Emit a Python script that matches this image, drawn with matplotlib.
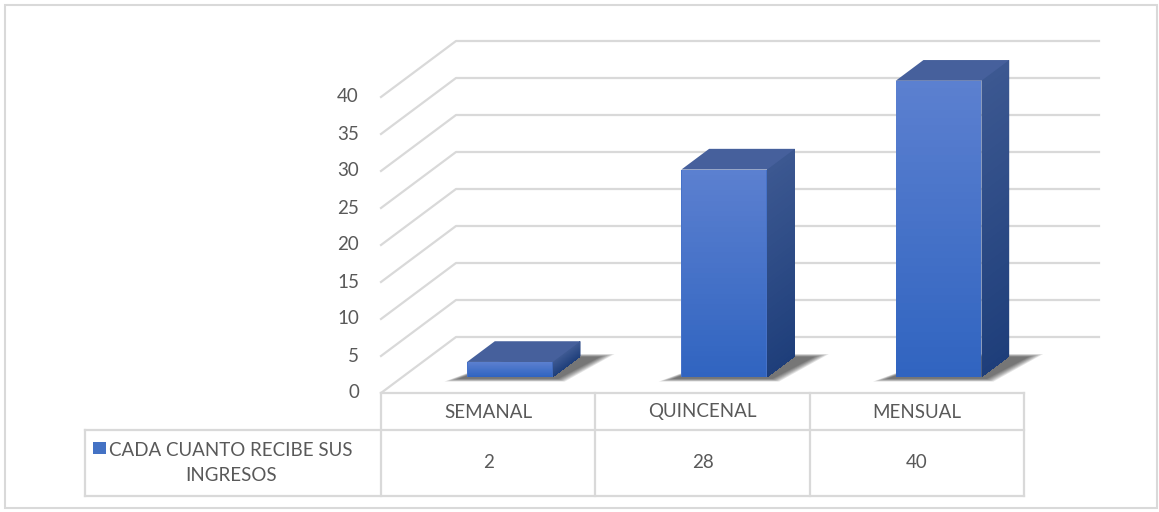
import numpy as np
import matplotlib
matplotlib.use("Agg")
import matplotlib.pyplot as plt
import matplotlib.transforms as mtransforms
from matplotlib.patches import Polygon, Rectangle

# data
categories = ["SEMANAL", "QUINCENAL", "MENSUAL"]
values = [2, 28, 40]
series_name = "CADA CUANTO RECIBE SUS\nINGRESOS"
yticks = list(range(0, 45, 5))

W, H = 1159, 512
plt.rcParams["font.family"] = ["Lato", "DejaVu Sans"]
txt_color = "#595959"
grid_color = "#d9d9d9"

fig = plt.figure(figsize=(W / 100, H / 100), dpi=100)
ax = fig.add_axes([381 / W, 119 / H, (1024 - 381) / W, (415 - 119) / H])
ax.set_xlim(-0.5, 2.5)
ax.set_ylim(0, 40)
ax.axis("off")

# pixel coords (top-left origin) for layout bits
pix = mtransforms.Affine2D().scale(1 / W, -1 / H).translate(0, 1) + fig.transFigure
xdata_ypix = mtransforms.blended_transform_factory(ax.transData, pix)

DX, DY = 75, 56  # oblique offset of full depth, in pixels


def proj(x, v, d):
    px, py = ax.transData.transform((x, v))
    return (px + DX * d, py + DY * d)


ident = mtransforms.IdentityTransform()

# back wall + side gridlines
for v in yticks:
    pts = [proj(-0.5, v, 0), proj(-0.5, v, 1), proj(2.5, v, 1)]
    xs, ys = zip(*pts)
    fig.add_artist(plt.Line2D(xs, ys, transform=ident, color=grid_color, lw=1.6, zorder=1))
    ax.text(-0.5, v, str(v), transform=mtransforms.offset_copy(ax.transData, fig, x=-22, y=0, units="dots"),
            ha="right", va="center", fontsize=13.5, color=txt_color)

# bars
D0, D1 = 0.29, 0.66
half = 0.2
front_top = np.array([92, 128, 208]) / 255
front_bot = np.array([48, 100, 192]) / 255
side_top = np.array([60, 88, 145]) / 255
side_bot = np.array([30, 62, 122]) / 255
top_col = "#46609c"


def poly(pts, fc, aa=True, z=3, alpha=1.0):
    fig.add_artist(Polygon(pts, closed=True, transform=ident, fc=fc, ec="none",
                           antialiased=aa, zorder=z, alpha=alpha))


for i, v in enumerate(values):
    x0, x1 = i - half, i + half
    # soft shadow on the floor
    for k in range(7):
        g = 0.008 * (7 - k)
        sh = [proj(x0 - 0.02 - g, 0, D0 - 0.03 - g), proj(x1 + 0.03 + g, 0, D0 - 0.03 - g),
              proj(x1 + 0.09 + g, 0, D1 - 0.02 + g), proj(x0 + 0.1, 0, D1 - 0.02 + g)]
        poly(sh, "black", z=2, alpha=0.1)
    # base layers (antialiased edges)
    poly([proj(x0, 0, D0), proj(x1, 0, D0), proj(x1, v, D0), proj(x0, v, D0)], (front_top + front_bot) / 2)
    poly([proj(x1, 0, D0), proj(x1, 0, D1), proj(x1, v, D1), proj(x1, v, D0)], (side_top + side_bot) / 2)
    n = 40
    for j in range(n):
        a, b = v * j / n, min(v, v * (j + 1.3) / n)
        t = (j + 0.5) / n
        fc = front_bot * (1 - t) + front_top * t
        sc = side_bot * (1 - t) + side_top * t
        poly([proj(x0 + 0.003, a, D0), proj(x1 - 0.003, a, D0), proj(x1 - 0.003, b, D0), proj(x0 + 0.003, b, D0)],
             fc, aa=False, z=3.1)
        poly([proj(x1, a, D0 + 0.01), proj(x1, a, D1 - 0.01), proj(x1, b, D1 - 0.01), proj(x1, b, D0 + 0.01)],
             sc, aa=False, z=3.1)
    poly([proj(x0, v, D0), proj(x1, v, D0), proj(x1, v, D1), proj(x0, v, D1)], top_col, z=3.2)

# data table
edges = [-0.5, 0.5, 1.5, 2.5]
lk = dict(color=grid_color, lw=1.6, zorder=4)
ax.plot([-0.5, 2.5], [393, 393], transform=xdata_ypix, clip_on=False, **lk)
for y in (430, 496):
    fig.add_artist(plt.Line2D([85, 1024], [y, y], transform=pix, **lk))
fig.add_artist(plt.Line2D([85, 85], [430, 496], transform=pix, **lk))
for e in edges:
    ax.plot([e, e], [393, 496], transform=xdata_ypix, clip_on=False, **lk)

for i, (c, v) in enumerate(zip(categories, values)):
    ax.text(i, 412, c, transform=xdata_ypix, ha="center", va="center", fontsize=13.5, color=txt_color)
    ax.text(i, 463, str(v), transform=xdata_ypix, ha="center", va="center", fontsize=13.5, color=txt_color)

fig.text(231, 463, series_name, transform=pix, ha="center", va="center", fontsize=13.5,
         color=txt_color, linespacing=1.55)
fig.add_artist(Rectangle((93, 442), 13, 12, transform=pix, fc="#4472c4", ec="none"))

# outer chart border
fig.add_artist(Rectangle((5, 5), 1152, 503, transform=pix, fill=False, ec=grid_color, lw=1.5))

fig.savefig("out.png", dpi=100, facecolor="white")
